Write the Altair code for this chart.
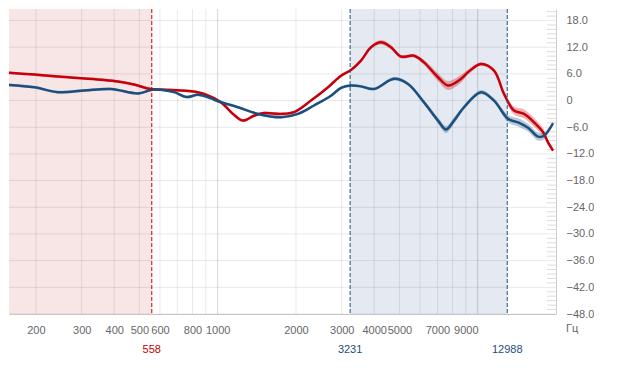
import altair as alt
import pandas as pd

# ---------------- data ----------------
red_freq = [150, 197, 266, 356, 414, 477, 554, 661, 790, 886, 1030, 1145, 1251, 1379, 1507,
            1752, 1966, 2285, 2657, 2981, 3256, 3558, 3887, 4248, 4640, 5070, 5689, 6216,
            7037, 7687, 8627, 9178, 10297, 11552, 12624, 13793, 15069, 16468, 17832, 18640, 19485]
red_db = [6.35, 5.85, 5.25, 4.7, 4.3, 3.6, 2.6, 2.4, 2.1, 1.5, -0.4, -3.0, -4.5, -3.4, -2.8,
          -3.0, -2.6, 0.0, 3.0, 5.6, 6.9, 9.0, 12.0, 13.1, 12.0, 9.9, 10.1, 8.6,
          5.25, 3.4, 4.9, 6.4, 8.25, 6.75, 1.5, -2.25, -3.0, -4.9, -7.1, -9.4, -11.25]
red_spread = [0.3, 0.3, 0.3, 0.3, 0.3, 0.3, 0.3, 0.3, 0.3, 0.3, 0.3, 0.3, 0.3, 0.3, 0.3,
              0.3, 0.3, 0.3, 0.3, 0.3, 0.3, 0.4, 0.4, 0.5, 0.5, 0.4, 0.4, 0.6,
              0.9, 1.0, 0.9, 0.6, 0.4, 0.4, 0.5, 0.9, 1.0, 1.0, 0.9, 0.6, 0.3]

blue_freq = [150, 197, 243, 306, 389, 494, 569, 680, 757, 841, 943, 1003, 1197, 1429, 1752,
             2036, 2346, 2728, 2981, 3256, 3558, 3993, 4767, 5395, 6216, 7037, 7552, 8106,
             8858, 10297, 11552, 13080, 14289, 15614, 17062, 17988, 19485]
blue_db = [3.6, 3.0, 1.9, 2.25, 2.6, 1.6, 2.5, 1.9, 0.8, 1.3, 0.5, -0.15, -1.5, -3.0, -3.75,
           -3.0, -1.1, 1.1, 2.85, 3.4, 3.2, 2.6, 4.9, 3.75, -0.4, -4.5, -6.5, -4.5,
           -1.5, 1.9, 0.0, -4.1, -4.9, -6.1, -8.1, -7.9, -5.1]
blue_spread = [0.3, 0.3, 0.3, 0.3, 0.3, 0.3, 0.3, 0.3, 0.3, 0.3, 0.3, 0.3, 0.3, 0.3, 0.3,
               0.3, 0.3, 0.3, 0.3, 0.3, 0.3, 0.3, 0.4, 0.4, 0.5, 0.7, 0.8, 0.7,
               0.5, 0.5, 0.5, 0.8, 0.9, 0.9, 0.9, 0.8, 0.4]

x_tick_labels = [200, 300, 400, 500, 600, 800, 1000, 2000, 3000, 4000, 5000, 7000, 9000]
x_grid_minor = [200, 300, 400, 500, 600, 700, 800, 900, 2000, 3000, 4000, 5000, 6000,
                7000, 8000, 9000]
x_grid_major = [1000, 10000]
y_ticks = [-48, -42, -36, -30, -24, -18, -12, -6, 0, 6, 12, 18]
y_minor = [v for v in range(-47, 21) if v % 6 != 0]

marker_freqs = [558, 3231, 12988]
marker_labels = ["558", "3231", "12988"]
marker_colors = ["#c00000", "#1f4e79", "#1f4e79"]

region_start = [100, 3231]
region_end = [558, 12988]
region_colors = ["#f8e5e6", "#e5eaf2"]

RED = "#c8000b"
BLUE = "#1a4f7e"

# ---------------- layout ----------------
W, H = 547, 305
xs = alt.Scale(type="log", domain=[157.6, 20000], nice=False)
ys = alt.Scale(domain=[-48, 20.6], nice=False, zero=False)

x_axis = alt.Axis(values=x_tick_labels, labelFontSize=11, labelColor="#666",
                  labelFont="Liberation Sans", grid=False, ticks=False, domainColor="#cfcfcf",
                  labelPadding=10, labelFlush=False, labelOverlap=False, title=None,
                  format="d")
y_axis = alt.Axis(orient="right", values=y_ticks, labelFontSize=11, labelColor="#666",
                  labelFont="Liberation Sans", grid=False, ticks=False, domainColor="#cfcfcf",
                  labelAlign="left", labelPadding=10, title=None,
                  labelExpr="datum.value == 0 ? '0' : format(datum.value, '.1f')")


def X(field):
    return alt.X(field, type="quantitative", scale=xs, axis=x_axis)


def Y(field):
    return alt.Y(field, type="quantitative", scale=ys, axis=y_axis)


regions = pd.DataFrame({"s": region_start, "e": region_end, "c": region_colors})
region_layer = alt.Chart(regions).mark_rect(clip=True).encode(
    x=X("s"), x2="e", y=alt.value(0), y2=alt.value(H),
    color=alt.Color("c:N", scale=None))

vgrid = pd.DataFrame({"f": x_grid_minor + x_grid_major,
                      "o": [0.09] * len(x_grid_minor) + [0.17] * len(x_grid_major)})
vgrid_layer = alt.Chart(vgrid).mark_rule(color="black", strokeWidth=1).encode(
    x=X("f"), opacity=alt.Opacity("o:Q", scale=None))

hgrid = pd.DataFrame({"v": y_ticks})
hgrid_layer = alt.Chart(hgrid).mark_rule(color="black", strokeWidth=1, opacity=0.09).encode(
    y=Y("v"))

minor = pd.DataFrame({"v": y_minor})
minor_layer = alt.Chart(minor).mark_rule(color="#dcdcdc", strokeWidth=1).encode(
    y=Y("v"), x=alt.value(W - 9), x2=alt.value(W))

rows = []
for f, d, s in zip(red_freq, red_db, red_spread):
    rows.append({"f": f, "db": d, "lo": d - s, "hi": d + s, "series": "red"})
for f, d, s in zip(blue_freq, blue_db, blue_spread):
    rows.append({"f": f, "db": d, "lo": d - s, "hi": d + s, "series": "blue"})
curves = pd.DataFrame(rows)

cscale = alt.Scale(domain=["red", "blue"], range=[RED, BLUE])

band_layer = alt.Chart(curves).mark_area(interpolate="catmull-rom", opacity=0.3, clip=True).encode(
    x=X("f"), y=Y("lo"), y2="hi",
    color=alt.Color("series:N", scale=cscale, legend=None),
    detail="series:N")

line_layer = alt.Chart(curves).mark_line(interpolate="catmull-rom", strokeWidth=2.5, clip=True).encode(
    x=X("f"), y=Y("db"),
    color=alt.Color("series:N", scale=cscale, legend=None),
    detail="series:N")

markers = pd.DataFrame({"f": marker_freqs, "t": marker_labels, "c": marker_colors})
marker_rules = alt.Chart(markers).mark_rule(strokeWidth=1, strokeDash=[4, 2]).encode(
    x=X("f"), color=alt.Color("c:N", scale=None))
marker_text = alt.Chart(markers).mark_text(fontSize=11, font="Liberation Sans",
                                           baseline="middle", align="center").encode(
    x=X("f"), y=alt.value(H + 36), text="t:N", color=alt.Color("c:N", scale=None))

unit_text = alt.Chart(pd.DataFrame({"t": ["Гц"]})).mark_text(
    fontSize=11, font="Liberation Sans", color="#666", align="left", baseline="middle").encode(
    x=alt.value(W + 10), y=alt.value(H + 15), text="t:N")

chart = alt.layer(
    region_layer, vgrid_layer, hgrid_layer, minor_layer, band_layer, line_layer,
    marker_rules, marker_text, unit_text
).properties(width=W, height=H, padding=0, background="white").configure_view(stroke=None)

chart.save("out.html", embed_options={"renderer": "svg", "actions": False})
